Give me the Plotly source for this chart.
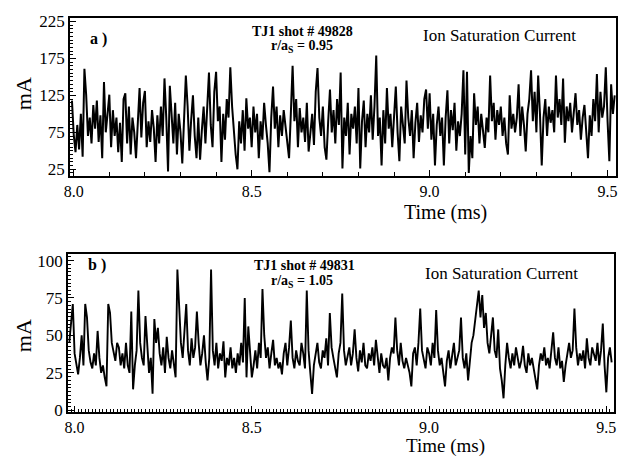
import numpy as np
import plotly.graph_objects as go

# ---------------- data ----------------
dt_ms = 0.005
t0_a = 7.995
t0_b = 7.985

current_a = [
    118, 72, 48, 85, 52, 100, 42, 161, 125, 70,
    95, 60, 112, 80, 118, 62, 98, 40, 143, 75,
    100, 126, 55, 105, 70, 95, 48, 88, 35, 120,
    128, 60, 110, 45, 95, 75, 40, 100, 135, 68,
    115, 131, 55, 90, 62, 105, 80, 35, 98, 60,
    110, 70, 148, 95, 22, 138, 90, 60, 115, 45,
    100, 75, 33, 85, 152, 110, 50, 92, 125, 70,
    40, 95, 38, 78, 110, 60, 120, 156, 85, 55,
    130, 157, 90, 110, 35, 100, 65, 120, 95, 163,
    110, 70, 45, 25, 90, 60, 105, 50, 121, 80,
    95, 55, 110, 75, 100, 40, 90, 65, 115, 85,
    60, 21, 95, 137, 80, 110, 55, 98, 70, 105,
    85, 60, 40, 100, 165, 90, 120, 55, 108, 75,
    95, 62, 115, 49, 80, 100, 58, 130, 162, 95,
    70, 110, 55, 38, 90, 133, 75, 105, 60, 120,
    85, 156, 26, 95, 70, 115, 45, 100, 80, 110,
    60, 135, 26, 90, 118, 55, 100, 75, 125, 65,
    110, 179, 70, 95, 30, 105, 60, 135, 80, 100,
    55, 90, 137, 75, 36, 110, 85, 60, 145, 95,
    70, 105, 40, 88, 115, 62, 98, 75, 120, 133,
    80, 128, 65, 100, 30, 85, 110, 70, 95, 30,
    95, 132, 60, 105, 78, 115, 50, 90, 70, 100,
    159, 45, 157, 20, 70, 40, 128, 85, 110, 60,
    100, 80, 54, 95, 75, 152, 90, 115, 65, 105,
    85, 110, 70, 95, 60, 45, 125, 80, 100, 75,
    95, 140, 70, 110, 85, 49, 100, 120, 159, 90,
    130, 75, 152, 100, 30, 95, 120, 70, 110, 88,
    105, 75, 152, 95, 120, 85, 148, 61, 110, 90,
    115, 75, 100, 128, 85, 105, 65, 95, 112, 80,
    40, 98, 70, 120, 90, 154, 75, 130, 95, 110,
    163, 90, 36, 140, 100, 125,
]

current_b = [
    45, 60, 71, 38, 30, 24, 35, 50, 30, 71,
    62, 40, 32, 28, 38, 30, 53, 35, 25, 30,
    22, 16, 71, 65, 45, 40, 33, 45, 42, 30,
    38, 28, 45, 30, 25, 66, 14, 30, 40, 80,
    45, 35, 30, 63, 40, 25, 35, 11, 61, 45,
    55, 38, 30, 42, 25, 49, 35, 28, 40, 30,
    22, 94, 70, 45, 35, 55, 71, 40, 30, 48,
    35, 42, 66, 45, 30, 38, 50, 32, 20, 35,
    94, 40, 30, 45, 28, 38, 33, 46, 22, 35,
    30, 42, 28, 35, 25, 38, 30, 45, 32, 75,
    22, 56, 35, 22, 30, 40, 28, 45, 35, 81,
    50, 35, 42, 28, 38, 47, 30, 35, 28, 32,
    24, 38, 45, 30, 42, 60, 35, 28, 40, 33,
    30, 45, 38, 28, 80, 40, 25, 11, 30, 38,
    45, 32, 28, 40, 35, 48, 30, 65, 42, 35,
    28, 22, 38, 45, 78, 40, 30, 35, 42, 30,
    38, 54, 35, 26, 40, 32, 45, 30, 28, 38,
    33, 42, 30, 47, 35, 25, 38, 30, 28, 35,
    20, 35, 42, 38, 62, 40, 30, 45, 33, 28,
    35, 30, 25, 16, 38, 42, 30, 45, 68, 40,
    35, 28, 42, 38, 30, 45, 35, 67, 40, 30,
    35, 25, 16, 33, 40, 28, 38, 45, 30, 35,
    40, 62, 35, 28, 38, 20, 33, 45, 50, 60,
    72, 80, 62, 77, 55, 65, 45, 38, 50, 62,
    40, 35, 54, 28, 20, 8, 30, 45, 35, 28,
    38, 30, 42, 35, 28, 33, 43, 30, 25, 38,
    30, 35, 28, 22, 14, 30, 38, 33, 42, 30,
    35, 28, 40, 52, 35, 30, 42, 28, 33, 19,
    30, 38, 45, 35, 40, 68, 42, 30, 38, 33,
    40, 28, 48, 35, 30, 42, 38, 33, 45, 30,
    40, 58, 30, 12, 35, 42, 32,
]

x_tick_labels = ["8.0", "8.5", "9.0", "9.5"]
y_tick_labels_a = ["25", "75", "125", "175", "225"]
y_tick_labels_b = ["0", "25", "50", "75", "100"]

time_a = np.round(t0_a + dt_ms * np.arange(len(current_a)), 4)
time_b = np.round(t0_b + dt_ms * np.arange(len(current_b)), 4)

# ---------------- figure ----------------
W, H = 627, 463
FONT = "Liberation Serif"

fig = go.Figure()
fig.add_trace(go.Scatter(x=time_a, y=current_a, mode="lines",
                         line=dict(color="black", width=2.0),
                         xaxis="x", yaxis="y", showlegend=False))
fig.add_trace(go.Scatter(x=time_b, y=current_b, mode="lines",
                         line=dict(color="black", width=1.9),
                         xaxis="x2", yaxis="y2", showlegend=False))

x_tickvals = [float(s) for s in x_tick_labels]


def px(x):
    return x / W


def py(y):
    return 1 - y / H


axis_common = dict(showline=True, linecolor="black", linewidth=2, mirror=True,
                   showgrid=False, zeroline=False, ticks="inside",
                   tickcolor="black", tickwidth=1.2)
yfont = dict(family=FONT, size=17, color="black")
xfont = dict(family=FONT, size=16, color="black")

fig.update_layout(
    width=W, height=H,
    margin=dict(l=0, r=0, t=0, b=0),
    paper_bgcolor="white", plot_bgcolor="white",
    xaxis=dict(domain=[px(65), px(618)], range=[7.990, 9.524], anchor="y",
               tickmode="array", tickvals=x_tickvals, ticktext=x_tick_labels,
               ticklen=6, ticklabelstandoff=0, tickfont=xfont,
               minor=dict(dtick=0.1, tick0=8.0, ticklen=4, ticks="inside", tickcolor="black"),
               **axis_common),
    yaxis=dict(domain=[py(176), py(13)], range=[15.8, 230.3], anchor="x",
               tickmode="array", tickvals=[float(s) for s in y_tick_labels_a],
               ticktext=y_tick_labels_a, ticklen=6, tickfont=yfont,
               minor=dict(dtick=5, tick0=0, ticklen=3, ticks="inside", tickcolor="black"),
               **axis_common),
    xaxis2=dict(domain=[px(63), px(616)], range=[7.982, 9.522], anchor="y2",
                tickmode="array", tickvals=x_tickvals, ticktext=x_tick_labels,
                ticklen=6, ticklabelstandoff=0, tickfont=xfont,
                minor=dict(dtick=0.01, tick0=8.0, ticklen=3, ticks="inside", tickcolor="black"),
                **axis_common),
    yaxis2=dict(domain=[py(419), py(256)], range=[-1.3, 104.5], anchor="x2",
                tickmode="array", tickvals=[float(s) for s in y_tick_labels_b],
                ticktext=y_tick_labels_b, ticklen=6, tickfont=yfont,
                minor=dict(dtick=2.5, tick0=0, ticklen=3, ticks="inside", tickcolor="black"),
                **axis_common),
)


def ann(text, x, y, size, bold=False, angle=0):
    fig.add_annotation(text=("<b>%s</b>" % text) if bold else text,
                       x=px(x), y=py(y), xref="paper", yref="paper",
                       xanchor="center", yanchor="middle", showarrow=False,
                       textangle=angle, borderpad=0,
                       font=dict(family=FONT, size=size, color="black"))


# panel a texts
ann("a )", 94, 35, 16, bold=True)
ann("TJ1 shot # 49828", 300, 27, 14, bold=True)
ann("r/a<sub>S</sub> = 0.95", 300, 43, 14, bold=True)
ann("Ion Saturation Current", 500, 31, 17)
ann("Time (ms)", 445, 214, 20)
ann("mA", 18, 91, 22, angle=-90)

# panel b texts
ann("b )", 92, 268, 16, bold=True)
ann("TJ1 shot # 49831", 302, 268, 14, bold=True)
ann("r/a<sub>S</sub> = 1.05", 300, 284, 14, bold=True)
ann("Ion Saturation Current", 502, 276, 17)
ann("Time (ms)", 445, 454, 19)
ann("mA", 18, 340, 22, angle=-90)

fig.write_html("out.html")
